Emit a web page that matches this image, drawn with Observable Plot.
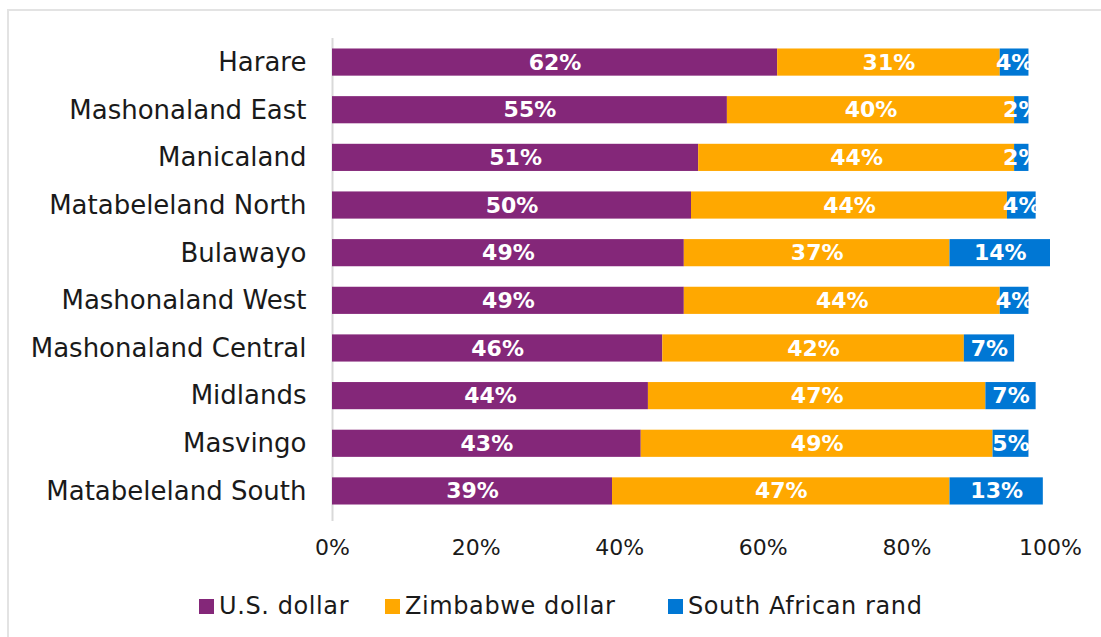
<!DOCTYPE html>
<html>
<head>
<meta charset="utf-8">
<script src="https://cdn.jsdelivr.net/npm/d3@7"></script>
<script src="https://cdn.jsdelivr.net/npm/@observablehq/plot@0.6"></script>
<style>
  html, body { margin: 0; padding: 0; background: #fff; width: 1101px; height: 637px; overflow: hidden; }
  #frame { position: absolute; left: 7px; top: 9px; width: 1200px; height: 700px;
    border-top: 2px solid #e3e3e3; border-left: 2px solid #e3e3e3; }
  #chart { position: absolute; left: 0; top: 0; }
  #legend { position: absolute; left: 0; top: 590px; width: 1101px; height: 32px;
    font-family: "Century Gothic", "DejaVu Sans", sans-serif; font-size: 24px; color: #1a1a1a; letter-spacing: 0.6px; }
  #legend .item { position: absolute; top: 0; display: flex; align-items: center; height: 32px; white-space: nowrap; }
  #legend .sw { width: 15px; height: 15px; margin-right: 5px; }
</style>
</head>
<body>
<div id="frame"></div>
<div id="chart"></div>
<div id="legend"></div>
<script>
const regions = ["Harare", "Mashonaland East", "Manicaland", "Matabeleland North", "Bulawayo",
  "Mashonaland West", "Mashonaland Central", "Midlands", "Masvingo", "Matabeleland South"];
const currencies = ["U.S. dollar", "Zimbabwe dollar", "South African rand"];
const usDollar = [62, 55, 51, 50, 49, 49, 46, 44, 43, 39];
const zimDollar = [31, 40, 44, 44, 37, 44, 42, 47, 49, 47];
const rand = [4, 2, 2, 4, 14, 4, 7, 7, 5, 13];
const colors = ["#842779", "#FFA800", "#0077D4"];
const xTicks = [0, 20, 40, 60, 80, 100];

const series = [usDollar, zimDollar, rand];
const data = [];
regions.forEach((r, i) => {
  currencies.forEach((c, j) => data.push({region: r, currency: c, value: series[j][i]}));
});

const font = '"Century Gothic", "DejaVu Sans", sans-serif';

const plot = Plot.plot({
  width: 1101,
  height: 580,
  marginLeft: 332,
  marginRight: 51,
  marginTop: 28,
  marginBottom: 55,
  style: {fontFamily: font, fontSize: "22px", color: "#1a1a1a", background: "transparent"},
  x: {domain: [0, 100], ticks: xTicks, tickFormat: d => d + "%", tickSize: 0, tickPadding: 14, label: null},
  y: {domain: regions, padding: 0.43, round: false, tickSize: 0, tickPadding: 26, label: null},
  color: {domain: currencies, range: colors},
  marks: [
    Plot.ruleX([0], {stroke: "#d9d9d9", strokeWidth: 2, insetTop: 10, insetBottom: 4}),
    Plot.barX(data, Plot.stackX({x: "value", y: "region", fill: "currency", order: currencies})),
    Plot.text(data, Plot.stackX({x: "value", y: "region", z: "currency", order: currencies,
      text: d => d.value + "%", fill: "white", fontWeight: "bold", fontSize: 22})),
    Plot.axisX({ticks: xTicks, tickFormat: d => d + "%", tickSize: 0, tickPadding: 14, fontSize: 22}),
    Plot.axisY({tickSize: 0, tickPadding: 26, fontSize: 26, style: {letterSpacing: "1.1px"}})
  ]
});
document.getElementById("chart").appendChild(plot);

const legend = document.getElementById("legend");
const legendLeft = [199, 385, 668];
currencies.forEach((c, i) => {
  const item = document.createElement("div");
  item.className = "item";
  item.style.left = legendLeft[i] + "px";
  const sw = document.createElement("div");
  sw.className = "sw";
  sw.style.background = colors[i];
  const t = document.createElement("span");
  t.textContent = c;
  item.appendChild(sw);
  item.appendChild(t);
  legend.appendChild(item);
});
</script>
</body>
</html>
